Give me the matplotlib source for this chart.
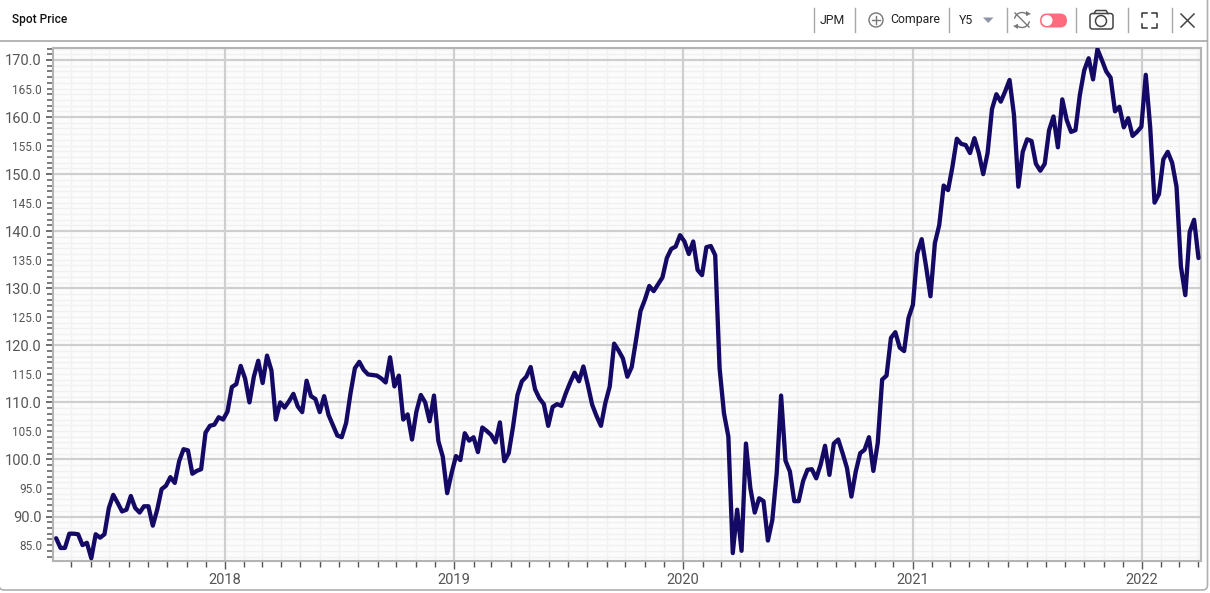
import numpy as np
import pandas as pd
import matplotlib
matplotlib.use("Agg")
import matplotlib.pyplot as plt
import matplotlib.dates as mdates
from matplotlib.patches import Circle, FancyBboxPatch, Polygon, Arc
from matplotlib.ticker import MultipleLocator, FuncFormatter

plt.rcParams['font.family'] = ['Roboto', 'DejaVu Sans']

# weekly closes
start_date = "2017-04-07"
end_date = "2022-04-01"
prices = [
    86.2, 84.5, 84.5, 87.0, 87.0, 86.9, 85.0, 85.4, 82.7, 86.9,
    86.3, 86.9, 91.5, 93.8, 92.4, 90.9, 91.2, 93.6, 91.5, 90.7,
    91.8, 91.8, 88.4, 91.2, 94.8, 95.4, 96.9, 95.9, 99.7, 101.8,
    101.6, 97.5, 98.0, 98.3, 104.7, 105.9, 106.1, 107.4, 107.0, 108.4,
    112.7, 113.2, 116.4, 114.2, 110.0, 114.5, 117.3, 113.4, 118.2, 115.6,
    107.0, 110.0, 109.1, 110.2, 111.5, 109.3, 108.3, 113.8, 111.1, 110.6,
    108.3, 111.1, 107.8, 106.0, 104.2, 103.9, 106.4, 111.6, 116.0, 117.1,
    115.7, 114.9, 114.8, 114.7, 114.2, 113.5, 117.9, 112.8, 114.7, 107.0,
    107.9, 103.5, 108.4, 111.3, 110.0, 106.7, 111.2, 103.2, 100.5, 94.1,
    97.6, 100.6, 99.9, 104.6, 103.3, 103.9, 101.3, 105.6, 105.0, 104.3,
    103.0, 106.5, 99.7, 101.1, 105.8, 111.3, 113.7, 114.5, 116.2, 112.3,
    110.7, 109.7, 105.9, 109.2, 109.7, 109.4, 111.6, 113.5, 115.2, 113.7,
    116.3, 113.1, 109.6, 107.6, 105.9, 109.9, 112.8, 120.3, 119.1, 117.7,
    114.5, 116.2, 121.0, 126.0, 128.0, 130.4, 129.5, 130.7, 131.9, 135.3,
    136.9, 137.3, 139.3, 138.2, 136.0, 138.2, 133.2, 132.3, 137.2, 137.4,
    135.8, 116.0, 108.1, 104.0, 83.6, 91.2, 84.0, 102.8, 95.0, 90.7,
    93.2, 92.7, 85.8, 89.4, 97.6, 111.2, 99.8, 97.9, 92.7, 92.7,
    96.2, 98.2, 98.3, 96.7, 99.1, 102.4, 97.3, 102.8, 103.5, 101.1,
    98.5, 93.5, 97.9, 101.1, 101.7, 103.9, 98.0, 102.9, 114.0, 114.7,
    121.3, 122.3, 119.6, 119.0, 124.8, 127.1, 136.1, 138.6, 133.8, 128.6,
    137.9, 141.1, 148.0, 147.2, 151.3, 156.2, 155.3, 155.1, 153.7, 156.3,
    153.7, 150.0, 153.7, 161.4, 164.0, 162.7, 164.5, 166.5, 160.4, 147.8,
    153.9, 156.1, 155.8, 151.8, 150.6, 151.8, 157.7, 160.1, 154.7, 163.1,
    159.5, 157.4, 157.7, 163.9, 168.2, 170.3, 166.6, 171.9, 170.0, 168.0,
    166.9, 161.0, 161.8, 158.2, 159.8, 156.7, 157.4, 158.3, 167.4, 158.3,
    145.0, 146.5, 152.6, 153.9, 152.0, 147.8, 133.8, 128.8, 139.9, 142.0,
    135.3,
]
dates = pd.date_range(start_date, end_date, freq="7D")
year_lines = ["2018-01-01", "2019-01-01", "2020-01-01", "2021-01-01", "2022-01-01"]
price_lines = [90, 100, 110, 120, 130, 140, 150, 160, 170]

W, H = 1210, 593
fig = plt.figure(figsize=(W / 100, H / 100), dpi=100, facecolor="white")

# chart
ax = fig.add_axes([53 / W, (H - 560.5) / H, 1148 / W, 512.5 / H])
ax.set_facecolor("#fcfcfc")
ax.plot(dates, prices, color="#140a66", lw=3.1, solid_joinstyle="round", solid_capstyle="round", zorder=5)
ax.set_xlim(pd.Timestamp("2017-04-02"), pd.Timestamp("2022-04-05"))
ax.set_ylim(82.3, 172.1)

ax.yaxis.set_major_locator(MultipleLocator(10))
ax.yaxis.set_minor_locator(MultipleLocator(1))
ax.yaxis.set_major_formatter(FuncFormatter(lambda v, p: "%.1f" % v))
ax.yaxis.set_minor_formatter(FuncFormatter(lambda v, p: "%.1f" % v if round(v) % 5 == 0 and round(v) % 10 != 0 else ""))
ax.xaxis.set_major_locator(mdates.YearLocator())
ax.xaxis.set_minor_locator(mdates.MonthLocator(bymonth=range(2, 13)))
ax.xaxis.set_major_formatter(mdates.DateFormatter("%Y"))

# minor grid from the axis, main lines on top so they stay unbroken
ax.grid(which="minor", color="#f1f1f1", lw=1)
ax.set_axisbelow(True)
for d in year_lines:
    ax.axvline(pd.Timestamp(d), color="#cfcfcf", lw=1.6, zorder=1)
for p in price_lines:
    ax.axhline(p, color="#cfcfcf", lw=1.6, zorder=1)

ax.tick_params(axis="y", which="major", length=5, width=1.2, color="#555555", labelsize=10.5, labelcolor="#555555", pad=3)
ax.tick_params(axis="y", which="minor", length=4, width=1.2, color="#666666", labelsize=8.5, labelcolor="#555555", pad=4)
ax.tick_params(axis="x", which="major", length=6, width=1, color="#555555", labelsize=10.5, labelcolor="#555555", pad=3)
ax.tick_params(axis="x", which="minor", length=4, width=1, color="#555555")

for s in ax.spines.values():
    s.set_color("#b4b4b4")
    s.set_linewidth(1.5)

# header bar and window frame, in pixels
ui = fig.add_axes([0, 0, 1, 1], facecolor="none")
ui.set_xlim(0, W)
ui.set_ylim(H, 0)
ui.axis("off")

ui.add_patch(FancyBboxPatch((-1, -12), 1208.5, 602, boxstyle="round,pad=0,rounding_size=5", fc="none", ec="#b0b0b0", lw=1.2))
ui.plot([0, 1207], [40.5, 40.5], color="#a8a8a8", lw=1.2)

ui.text(12, 19.5, "Spot Price", fontsize=8.6, fontweight="medium", color="#111111", va="center")
ui.text(832.5, 20, "JPM", fontsize=8.8, color="#222222", ha="center", va="center")
ui.text(890, 20, "Compare", fontsize=8.8, color="#222222", va="center")
ui.text(959, 20, "Y5", fontsize=8.8, color="#222222", va="center")

for sx in [813.5, 854.5, 948.5, 1006.5, 1075.5, 1127.5, 1171.5]:
    ui.plot([sx, sx], [8, 32], color="#a8a8a8", lw=1)

# compare icon
ui.add_patch(Circle((876, 20), 7, fc="none", ec="#777777", lw=1))
ui.plot([872, 880], [20, 20], color="#777777", lw=1)
ui.plot([876, 876], [16, 24], color="#777777", lw=1)
ui.add_patch(Polygon([(983, 17.5), (993.5, 17.5), (988.2, 23)], fc="#8d95a8", ec="none"))

# sync icon
ui.add_patch(Arc((1022, 20), 15, 15, theta1=190, theta2=320, color="#777777", lw=1))
ui.add_patch(Arc((1022, 20), 15, 15, theta1=10, theta2=140, color="#777777", lw=1))
ui.plot([1015, 1029], [13, 27], color="#777777", lw=1)
ui.add_patch(Polygon([(1026, 11), (1031, 14), (1026, 16)], fc="#777777", ec="none"))
ui.add_patch(Polygon([(1018, 24), (1013, 26), (1018, 29)], fc="#777777", ec="none"))

# toggle
ui.add_patch(FancyBboxPatch((1040, 13.5), 27, 14, boxstyle="round,pad=0,rounding_size=7", fc="#ff6b7e", ec="none"))
ui.add_patch(Circle((1047, 20.5), 5.5, fc="white", ec="none"))

# camera
ui.add_patch(FancyBboxPatch((1090, 13.5), 23, 15.5, boxstyle="round,pad=0,rounding_size=2.5", fc="none", ec="#444444", lw=1.1))
ui.plot([1094, 1096, 1106, 1108], [13.5, 10.5, 10.5, 13.5], color="#444444", lw=1.1)
ui.add_patch(Circle((1101, 21), 5.5, fc="none", ec="#444444", lw=1.1))

# fullscreen
for cx, cy, dx, dy in [(1141.5, 12.5, 1, 1), (1157, 12.5, -1, 1), (1141.5, 27.5, 1, -1), (1157, 27.5, -1, -1)]:
    ui.plot([cx + 5 * dx, cx, cx], [cy, cy, cy + 4 * dy], color="#333333", lw=1.1)

# close
ui.plot([1181, 1194], [14, 27], color="#444444", lw=1.1)
ui.plot([1181, 1194], [27, 14], color="#444444", lw=1.1)

fig.savefig("out.png", dpi=100)
